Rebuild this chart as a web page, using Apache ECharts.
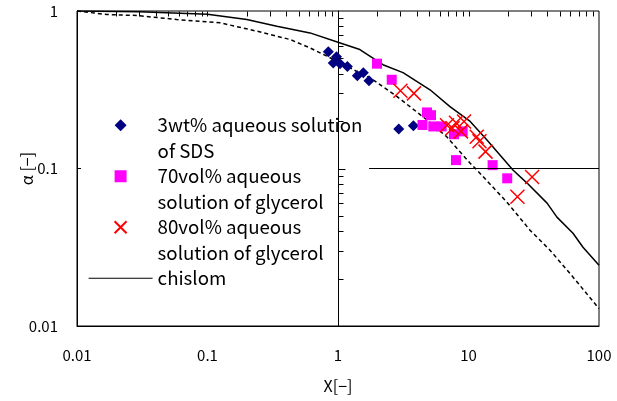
<!DOCTYPE html>
<html lang="en">
<head>
<meta charset="UTF-8">
<title>alpha - X</title>
<script src="https://cdn.jsdelivr.net/npm/echarts@6/dist/echarts.min.js"></script>
<style>html,body{margin:0;padding:0;background:#fff;}</style>
</head>
<body>
<div id="main" style="width:617px;height:401px;"></div>
<script type="text/javascript">
    // curves
    var chislomX = [0.01, 0.03, 0.1, 0.2, 0.34, 0.61, 1.0, 1.47, 2.21, 3.15, 5.07, 7.21, 10.3, 13.8, 21.9, 28.1, 40.0, 47.6, 63.2, 75.4, 100];
    var chislomY = [1.0, 0.99, 0.955, 0.883, 0.80, 0.726, 0.633, 0.569, 0.456, 0.406, 0.316, 0.247, 0.199, 0.152, 0.0978, 0.0808, 0.0603, 0.0491, 0.0388, 0.0316, 0.0243];
    var dashX = [0.01, 0.017, 0.029, 0.058, 0.125, 0.24, 0.43, 0.61, 1.0, 1.85, 2.82, 4.79, 6.81, 10.3, 11.6, 19.6, 29.6, 42.1, 63.1, 100];
    var dashY = [1.0, 0.95, 0.936, 0.883, 0.841, 0.744, 0.659, 0.583, 0.477, 0.366, 0.287, 0.204, 0.159, 0.108, 0.0978, 0.0614, 0.0406, 0.0303, 0.0205, 0.0129];

    // measured points
    var sdsX = [0.843, 0.974, 0.92, 1.036, 1.18, 1.406, 1.563, 1.728, 2.92, 3.78];
    var sdsY = [0.552, 0.513, 0.468, 0.463, 0.445, 0.388, 0.406, 0.361, 0.178, 0.187];
    var gly70X = [1.99, 2.58, 4.81, 5.16, 4.44, 5.37, 6.23, 7.74, 9.03, 8.02, 15.3, 19.8];
    var gly70Y = [0.463, 0.366, 0.227, 0.218, 0.189, 0.185, 0.185, 0.165, 0.172, 0.113, 0.105, 0.0866];
    var gly80X = [3.01, 3.82, 6.84, 7.54, 8.02, 9.24, 8.76, 11.56, 12.14, 13.5, 30.7, 23.7];
    var gly80Y = [0.312, 0.300, 0.188, 0.180, 0.195, 0.199, 0.172, 0.159, 0.149, 0.128, 0.0883, 0.0661];

    // ticks on the crossing axes (x axis at alpha=1, y axis at X=1)
    var topTicks = [0.02, 0.03, 0.04, 0.05, 0.06, 0.07, 0.08, 0.09, 0.1, 0.2, 0.3, 0.4, 0.5, 0.6, 0.7, 0.8, 0.9,
                    2, 3, 4, 5, 6, 7, 8, 9, 10, 20, 30, 40, 50, 60, 70, 80, 90];
    var midMinorTicks = [0.02, 0.03, 0.04, 0.05, 0.06, 0.07, 0.08, 0.09, 0.2, 0.3, 0.4, 0.5, 0.6, 0.7, 0.8, 0.9];
    var midMajorTicks = [0.1];
    var refLine = [[1.73, 0.1], [100, 0.1]];

    var names = ['3wt% aqueous solution\nof SDS', '70vol% aqueous\nsolution of glycerol',
                 '80vol% aqueous\nsolution of glycerol', 'chislom'];

    function zip(a, b) {
        var r = [];
        for (var i = 0; i < a.length; i++) r.push([a[i], b[i]]);
        return r;
    }

    var font = '"Noto Sans CJK JP", "Noto Sans", sans-serif';
    var L = 25.5; // legend line height

    // path symbols keep their shape in the wide legend slot
    var diamondPath = 'path://M0,5L5,0L10,5L5,10Z';
    var squarePath = 'path://M0,0L10,0L10,10L0,10Z';
    var crossPath = 'path://M0,0L10,10M10,0L0,10';

    function tickSeries(vals, fixed, horizontal, len) {
        return {
            type: 'custom',
            silent: true,
            z: 5,
            data: vals.map(function (v) { return horizontal ? [v, fixed] : [fixed, v]; }),
            encode: {x: 0, y: 1},
            renderItem: function (params, api) {
                var p = api.coord([api.value(0), api.value(1)]);
                var x = Math.round(p[0]) + 0.5, y = Math.round(p[1]) + 0.5;
                return {
                    type: 'line',
                    shape: horizontal ? {x1: x, y1: y, x2: x, y2: y + len} : {x1: x, y1: y, x2: x + len, y2: y},
                    style: {stroke: '#000', lineWidth: 1}
                };
            }
        };
    }

    var myChart = echarts.init(document.getElementById('main'));
    var option = {
        animation: false,
        textStyle: {fontFamily: font},
        grid: {left: 77, right: 18, top: 11, bottom: 75, containLabel: false, outerBoundsMode: 'none',
               show: true, borderColor: '#000', borderWidth: 1, backgroundColor: 'transparent'},
        legend: {
            orient: 'vertical',
            left: 88,
            top: 87,
            padding: 0,
            itemWidth: 64,
            itemHeight: 12,
            itemGap: -L,
            selectedMode: false,
            symbolKeepAspect: true,
            textStyle: {fontSize: 18.7, lineHeight: L, color: '#000', fontFamily: font},
            // an empty line above (and below for single-line names) keeps the icon on the first line
            formatter: function (name) {
                return name.indexOf('\n') >= 0 ? '\n' + name : '\n' + name + '\n';
            },
            data: [
                {name: names[0]},
                {name: names[1]},
                {name: names[2]},
                {name: names[3], itemStyle: {color: 'rgba(0,0,0,0)', borderColor: 'rgba(0,0,0,0)', borderWidth: 0},
                 lineStyle: {color: '#000', width: 1.2}}
            ]
        },
        xAxis: [{
            type: 'log', logBase: 10, min: 0.01, max: 100,
            position: 'bottom',
            name: 'X[\u2212]', nameLocation: 'middle', nameGap: 52, nameMoveOverlap: false,
            nameTextStyle: {fontSize: 16, color: '#000'},
            axisLine: {lineStyle: {color: '#000'}},
            axisTick: {show: false},
            axisLabel: {fontSize: 15, color: '#000', margin: 22},
            splitLine: {show: false}
        }, {
            type: 'log', logBase: 10, min: 0.01, max: 100,
            position: 'top',
            axisLine: {show: false}, axisTick: {show: false}, axisLabel: {show: false}, splitLine: {show: false}
        }],
        yAxis: [{
            type: 'log', logBase: 10, min: 0.01, max: 1,
            position: 'left',
            name: '\u03b1 [\u2212]', nameLocation: 'middle', nameGap: 42, nameMoveOverlap: false,
            nameTextStyle: {fontSize: 16, color: '#000'},
            axisLine: {lineStyle: {color: '#000'}},
            axisTick: {show: true, inside: true, length: 4, lineStyle: {color: '#000'}},
            axisLabel: {fontSize: 15, color: '#000', margin: 19},
            splitLine: {show: false}
        }, {
            type: 'log', logBase: 10, min: 0.01, max: 1,
            position: 'left', offset: -261,
            axisLine: {show: true, lineStyle: {color: '#000'}},
            axisTick: {show: false}, axisLabel: {show: false}, splitLine: {show: false}
        }],
        series: [{
            name: 'dashed',
            type: 'line',
            data: zip(dashX, dashY),
            showSymbol: false, symbol: 'none',
            lineStyle: {color: '#000', width: 1.5, type: [4, 3]},
            z: 2
        }, {
            name: names[3],
            type: 'line',
            data: zip(chislomX, chislomY),
            showSymbol: false, symbol: 'none',
            lineStyle: {color: '#000', width: 1.5},
            itemStyle: {color: '#000'},
            markLine: {
                silent: true, symbol: 'none', label: {show: false},
                lineStyle: {color: '#000', width: 1, type: 'solid'},
                data: [[{coord: refLine[0]}, {coord: refLine[1]}]]
            },
            z: 2
        }, {
            name: names[0],
            type: 'scatter',
            data: zip(sdsX, sdsY),
            symbol: diamondPath, symbolSize: 11, symbolKeepAspect: true,
            itemStyle: {color: '#000080', opacity: 1},
            z: 3
        }, {
            name: names[1],
            type: 'scatter',
            data: zip(gly70X, gly70Y),
            symbol: squarePath, symbolSize: 10, symbolKeepAspect: true,
            itemStyle: {color: '#ff00ff', opacity: 1},
            z: 3
        }, {
            name: names[2],
            type: 'scatter',
            data: zip(gly80X, gly80Y),
            symbol: crossPath, symbolSize: 14, symbolKeepAspect: true,
            itemStyle: {color: 'none', borderColor: '#ff0000', borderWidth: 1.5, opacity: 1},
            z: 4
        },
            tickSeries(topTicks, 1, true, 5),
            tickSeries(midMinorTicks, 1, false, 5),
            tickSeries(midMajorTicks, 1, false, 7)
        ]
    };
    myChart.setOption(option);
</script>
</body>
</html>
